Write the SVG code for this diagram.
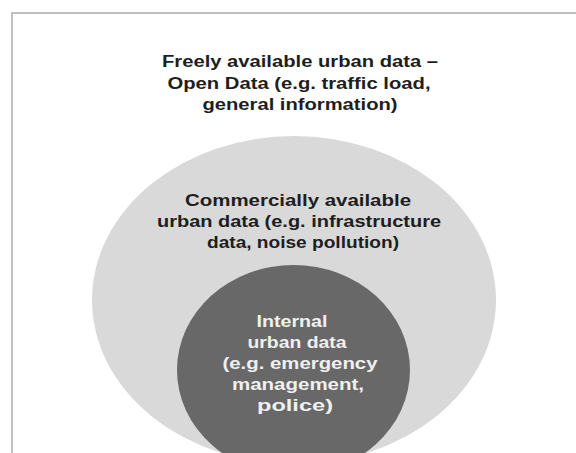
<svg xmlns="http://www.w3.org/2000/svg" width="576" height="453" viewBox="0 0 576 453">
<style>
text{font-family:"Liberation Sans",Arial,sans-serif;font-weight:bold;font-size:16px;text-anchor:middle}
.dk{fill:#1e1e1e}
.lt{fill:#f0f0f0}
</style>
<rect x="0" y="0" width="576" height="453" fill="#ffffff"/>
<rect x="12" y="13" width="600" height="500" fill="#ffffff" stroke="#c0c0c0" stroke-width="2"/>
<g id="open-data">
<text class="dk" x="300" y="67" textLength="276" lengthAdjust="spacingAndGlyphs">Freely available urban data –</text>
<text class="dk" x="299" y="89" textLength="263" lengthAdjust="spacingAndGlyphs">Open Data (e.g. traffic load,</text>
<text class="dk" x="300" y="110" textLength="195" lengthAdjust="spacingAndGlyphs">general information)</text>
</g>
<g id="commercial-data">
<ellipse cx="294" cy="300" rx="202" ry="164" fill="#d9d9d9"/>
<text class="dk" x="298" y="206" textLength="226" lengthAdjust="spacingAndGlyphs">Commercially available</text>
<text class="dk" x="299" y="227" textLength="284" lengthAdjust="spacingAndGlyphs">urban data (e.g. infrastructure</text>
<text class="dk" x="303" y="248" textLength="192" lengthAdjust="spacingAndGlyphs">data, noise pollution)</text>
</g>
<g id="internal-data">
<ellipse cx="293.5" cy="370" rx="116.5" ry="105" fill="#686868"/>
<text class="lt" x="292" y="327" textLength="71" lengthAdjust="spacingAndGlyphs">Internal</text>
<text class="lt" x="297" y="348" textLength="99" lengthAdjust="spacingAndGlyphs">urban data</text>
<text class="lt" x="300" y="369" textLength="155" lengthAdjust="spacingAndGlyphs">(e.g. emergency</text>
<text class="lt" x="298" y="390" textLength="132" lengthAdjust="spacingAndGlyphs">management,</text>
<text class="lt" x="295" y="411" textLength="76" lengthAdjust="spacingAndGlyphs">police)</text>
</g>
<g id="connectors"/>
</svg>
